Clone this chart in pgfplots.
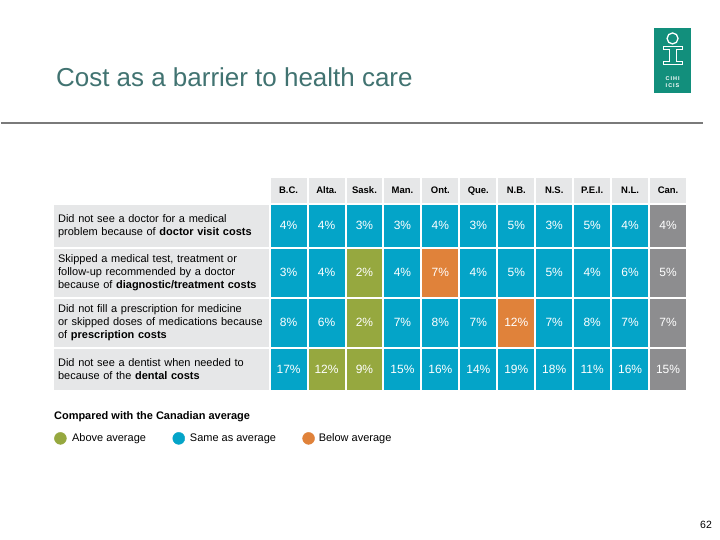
\documentclass[border=0pt]{standalone}
\usepackage{pgfplots}
\pgfplotsset{compat=1.18}
\usepackage{pgfplotstable}
\usepackage{fontspec}
\setmainfont{Liberation Sans}
\definecolor{cblue}{HTML}{04A4C8}
\definecolor{cgreen}{HTML}{96A83F}
\definecolor{corange}{HTML}{E0823A}
\definecolor{cgray}{HTML}{8D8D8F}
\definecolor{lgray}{HTML}{E6E7E8}
\definecolor{ctitle}{HTML}{417371}
\definecolor{clogo}{HTML}{128F7C}
\definecolor{lineg}{HTML}{7A7A7A}

\pgfdeclareplotmark{cellS}{\pgfpathrectangle{\pgfpoint{-18pt}{-21pt}}{\pgfpoint{36pt}{42pt}}\pgfusepathqfill}
\pgfdeclareplotmark{cellT}{\pgfpathrectangle{\pgfpoint{-18pt}{-24pt}}{\pgfpoint{36pt}{48pt}}\pgfusepathqfill}
\pgfdeclareplotmark{cellH}{\pgfpathrectangle{\pgfpoint{-18pt}{-12.5pt}}{\pgfpoint{36pt}{25pt}}\pgfusepathqfill}
\pgfdeclareplotmark{wideS}{\pgfpathrectangle{\pgfpoint{-107.5pt}{-21pt}}{\pgfpoint{215pt}{42pt}}\pgfusepathqfill}
\pgfdeclareplotmark{wideT}{\pgfpathrectangle{\pgfpoint{-107.5pt}{-24pt}}{\pgfpoint{215pt}{48pt}}\pgfusepathqfill}

% value cells, rows 1 and 4 (height 42 px): x y (pixel centres), v (percent), c (class)
\pgfplotstableread{
x y v c
288 226 4 S
326 226 4 S
364 226 3 S
402 226 3 S
440 226 4 S
478 226 3 S
516 226 5 S
554 226 3 S
592 226 5 S
630 226 4 S
668 226 4 C
288 370 17 S
326 370 12 A
364 370 9 A
402 370 15 S
440 370 16 S
478 370 14 S
516 370 19 S
554 370 18 S
592 370 11 S
630 370 16 S
668 370 15 C
}\cellsS

% value cells, rows 2 and 3 (height 48 px)
\pgfplotstableread{
x y v c
288 273 3 S
326 273 4 S
364 273 2 A
402 273 4 S
440 273 7 B
478 273 4 S
516 273 5 S
554 273 5 S
592 273 4 S
630 273 6 S
668 273 5 C
288 323 8 S
326 323 6 S
364 323 2 A
402 323 7 S
440 323 8 S
478 323 7 S
516 323 12 B
554 323 7 S
592 323 8 S
630 323 7 S
668 323 7 C
}\cellsT

\pgfplotstableread{
x y lab
288 190.5 B.C.
326 190.5 Alta.
364 190.5 Sask.
402 190.5 Man.
440 190.5 Ont.
478 190.5 Que.
516 190.5 N.B.
554 190.5 N.S.
592 190.5 P.E.I.
630 190.5 N.L.
668 190.5 Can.
}\header

\pgfplotsset{cellplot/.style={scatter, only marks,
  scatter src=explicit symbolic,
  scatter/classes={A={fill=cgreen},S={fill=cblue},B={fill=corange},C={fill=cgray},H={fill=lgray}}},
  valplot/.style={only marks, mark=none, point meta=explicit,
  nodes near coords={\pgfmathprintnumber{\pgfplotspointmeta}\%}, nodes near coords align={center},
  every node near coord/.append style={font=\fontsize{12}{14}\selectfont, text=white, inner sep=0pt,
    text height=8.6pt, text depth=0pt}}}

\begin{document}
\begin{tikzpicture}
\fill[white] (0,0) rectangle (720pt,540pt);
\begin{axis}[width=720pt,height=540pt,scale only axis,set layers,
  xmin=0,xmax=720,ymin=0,ymax=540,y dir=reverse,
  axis lines=none,ticks=none,clip=false,
  /pgf/number format/assume math mode=true]

% header row
\addplot[only marks, mark=cellH, mark options={fill=lgray}] table[x=x,y=y]{\header};
\addplot[only marks, mark=none, point meta=explicit symbolic,
  nodes near coords, nodes near coords align={center},
  every node near coord/.append style={font=\bfseries\fontsize{9.5}{11}\selectfont, text=black, inner sep=0pt,
    text height=6.8pt, text depth=0pt}]
  table[x=x,y=y,meta=lab]{\header};

% row label backgrounds
\addplot[only marks, mark=wideS, mark options={fill=lgray}] coordinates {(160.5,226) (160.5,370)};
\addplot[only marks, mark=wideT, mark options={fill=lgray}] coordinates {(160.5,273) (160.5,323)};

% value cells
\addplot[cellplot, mark=cellS] table[x=x,y=y,meta=c]{\cellsS};
\addplot[cellplot, mark=cellT] table[x=x,y=y,meta=c]{\cellsT};
\addplot[valplot] table[x=x,y=y,meta=v]{\cellsS};
\addplot[valplot] table[x=x,y=y,meta=v]{\cellsT};

% legend markers
\addplot[cgreen, only marks, mark=*, mark size=6pt] coordinates {(59.5,439)};
\addplot[cblue, only marks, mark=*, mark size=6pt] coordinates {(178,439)};
\addplot[corange, only marks, mark=*, mark size=6pt] coordinates {(308,439)};

\begin{pgfonlayer}{axis foreground}
% title and rule
\node[anchor=base west, inner sep=0pt, text=ctitle, font=\fontsize{26}{30}\selectfont] at (axis cs:55,87) {Cost as a barrier to health care};
\draw[line width=2pt, lineg] (axis cs:0,123) -- (axis cs:703,123);

% logo
\fill[clogo] (axis cs:654,28) rectangle (axis cs:691,93);
\draw[white, line width=1.3pt] (axis cs:672.5,38.5) circle[radius=5.5pt];
\draw[white, line width=1.1pt] (axis cs:663,47) -- (axis cs:682,47) -- (axis cs:682,50) -- (axis cs:676,50) -- (axis cs:676,62) -- (axis cs:682,62) -- (axis cs:682,65) -- (axis cs:663,65) -- (axis cs:663,62) -- (axis cs:669,62) -- (axis cs:669,50) -- (axis cs:663,50) -- cycle;
\node[text=white, inner sep=0pt, font=\bfseries\fontsize{5.5}{6}\selectfont] at (axis cs:672.5,79) {C\hspace{1pt}I\hspace{1pt}H\hspace{1pt}I};
\node[text=white, inner sep=0pt, font=\bfseries\fontsize{5.5}{6}\selectfont] at (axis cs:672.5,86) {I\hspace{1pt}C\hspace{1pt}I\hspace{1pt}S};

% row labels
\node[anchor=west, inner sep=0pt, text width=212pt, align=left, font=\fontsize{11}{13}\selectfont] at (axis cs:57,226) {Did not see a doctor for a medical\\problem because of \textbf{doctor visit costs}};
\node[anchor=west, inner sep=0pt, text width=212pt, align=left, font=\fontsize{11}{13}\selectfont] at (axis cs:57,273) {Skipped a medical test, treatment or\\follow-up recommended by a doctor\\because of \textbf{diagnostic/treatment costs}};
\node[anchor=west, inner sep=0pt, text width=212pt, align=left, font=\fontsize{11}{13}\selectfont] at (axis cs:57,323) {Did not fill a prescription for medicine\\or skipped doses of medications because\\of \textbf{prescription costs}};
\node[anchor=west, inner sep=0pt, text width=212pt, align=left, font=\fontsize{11}{13}\selectfont] at (axis cs:57,370) {Did not see a dentist when needed to\\because of the \textbf{dental costs}};

% legend text
\node[anchor=base west, inner sep=0pt, font=\bfseries\fontsize{11}{13}\selectfont] at (axis cs:53,420) {Compared with the Canadian average};
\node[anchor=west, inner sep=0pt, font=\fontsize{11}{13}\selectfont] at (axis cs:71,439) {Above average};
\node[anchor=west, inner sep=0pt, font=\fontsize{11}{13}\selectfont] at (axis cs:189,439) {Same as average};
\node[anchor=west, inner sep=0pt, font=\fontsize{11}{13}\selectfont] at (axis cs:318,439) {Below average};

% page number
\node[inner sep=0pt, font=\fontsize{10.5}{12}\selectfont] at (axis cs:706,526) {62};
\end{pgfonlayer}
\end{axis}
\end{tikzpicture}
\end{document}
